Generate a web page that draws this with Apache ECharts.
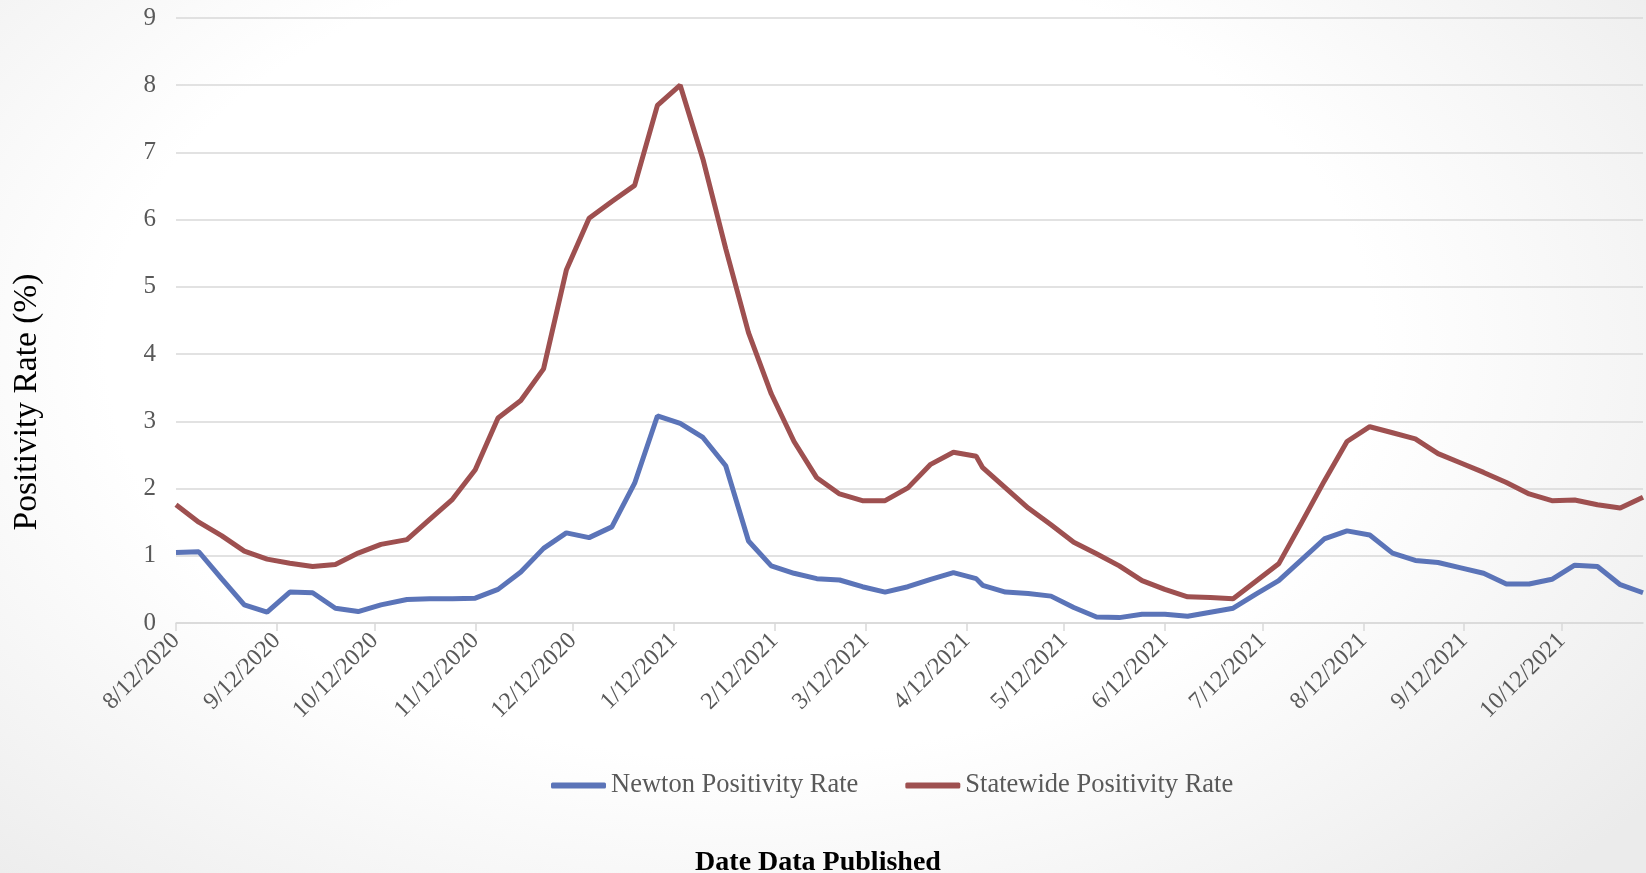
<!DOCTYPE html>
<html>
<head>
<meta charset="utf-8">
<script src="https://cdn.jsdelivr.net/npm/echarts@6/dist/echarts.min.js"></script>
<style>
html,body{margin:0;padding:0;}
body{background:radial-gradient(ellipse 70% 85% at 45% 40%, #ffffff 55%, #ebebeb 100%);}
#chart{width:1646px;height:873px;}
</style>
</head>
<body>
<div id="chart"></div>
<script>
const tickLabels = ['8/12/2020','9/12/2020','10/12/2020','11/12/2020','12/12/2020','1/12/2021','2/12/2021','3/12/2021','4/12/2021','5/12/2021','6/12/2021','7/12/2021','8/12/2021','9/12/2021','10/12/2021'];

const dates = [
 '2020-08-12','2020-08-19','2020-08-26','2020-09-02','2020-09-09','2020-09-16','2020-09-23','2020-09-30','2020-10-07','2020-10-14',
 '2020-10-22','2020-10-29','2020-11-05','2020-11-12','2020-11-19','2020-11-26','2020-12-03','2020-12-10','2020-12-17','2020-12-24',
 '2020-12-31','2021-01-07','2021-01-14','2021-01-21','2021-01-28','2021-02-04','2021-02-11','2021-02-18','2021-02-25','2021-03-04',
 '2021-03-11','2021-03-18','2021-03-25','2021-04-01','2021-04-08','2021-04-15','2021-04-17','2021-04-24','2021-05-01','2021-05-08',
 '2021-05-15','2021-05-22','2021-05-29','2021-06-05','2021-06-12','2021-06-19','2021-06-26','2021-07-03','2021-07-10','2021-07-17',
 '2021-07-24','2021-07-31','2021-08-07','2021-08-14','2021-08-21','2021-08-28','2021-09-04','2021-09-11','2021-09-18','2021-09-25',
 '2021-10-02','2021-10-09','2021-10-16','2021-10-23','2021-10-30','2021-11-06'
];

const newton = [
 1.05,1.06,0.66,0.27,0.16,0.46,0.45,0.22,0.17,0.27,
 0.35,0.36,0.36,0.37,0.50,0.76,1.11,1.34,1.27,1.43,
 2.08,3.08,2.97,2.76,2.34,1.22,0.85,0.74,0.66,0.64,
 0.54,0.46,0.54,0.65,0.75,0.66,0.56,0.46,0.44,0.40,
 0.23,0.09,0.08,0.13,0.13,0.10,0.16,0.22,0.43,0.63,
 0.94,1.25,1.37,1.31,1.04,0.93,0.90,0.82,0.74,0.58,
 0.58,0.65,0.86,0.84,0.57,0.45
];

const statewide = [
 1.76,1.50,1.30,1.07,0.95,0.89,0.84,0.87,1.04,1.17,
 1.24,1.54,1.84,2.28,3.05,3.31,3.78,5.25,6.02,6.27,
 6.51,7.70,8.00,6.90,5.57,4.32,3.41,2.70,2.16,1.92,
 1.82,1.82,2.01,2.36,2.54,2.48,2.31,2.01,1.71,1.46,
 1.20,1.03,0.85,0.63,0.50,0.39,0.38,0.36,0.62,0.88,
 1.49,2.11,2.70,2.92,2.83,2.74,2.52,2.38,2.24,2.09,
 1.92,1.82,1.83,1.76,1.71,1.87
];

const yTicks = [0,1,2,3,4,5,6,7,8,9];

function parseISO(s){const p=s.split('-').map(Number);return Date.UTC(p[0],p[1]-1,p[2]);}
function parseMDY(s){const p=s.split('/').map(Number);return Date.UTC(p[2],p[0]-1,p[1]);}
function fmt(v){const d=new Date(v);return (d.getUTCMonth()+1)+'/'+d.getUTCDate()+'/'+d.getUTCFullYear();}

const tickTs = tickLabels.map(parseMDY);
const xs = dates.map(parseISO);
const FONT = '"Liberation Serif", "DejaVu Serif", serif';

const chart = echarts.init(document.getElementById('chart'), null, {renderer:'canvas'});
chart.setOption({
  backgroundColor: 'transparent',
  animation: false,
  grid: {left:176, right:3, top:18, bottom:250, containLabel:false},
  legend: {
    left: 546, top: 767,
    icon: 'roundRect',
    itemWidth: 55, itemHeight: 6, itemGap: 47,
    textStyle: {fontFamily: FONT, fontSize: 26.5, color: '#595959'},
    data: ['Newton Positivity Rate','Statewide Positivity Rate']
  },
  xAxis: {
    type: 'value',
    min: xs[0], max: xs[xs.length-1],
    axisLine: {show:true, onZero:false, lineStyle:{color:'#d9d9d9', width:1.5}},
    axisTick: {show:true, customValues: tickTs, length: 8, lineStyle:{color:'#d9d9d9', width:1.5}},
    axisLabel: {customValues: tickTs, rotate: 45, margin: 14, formatter: fmt,
      fontFamily: FONT, fontSize: 24, color: '#595959'},
    splitLine: {show:false}
  },
  yAxis: {
    type: 'value', min: yTicks[0], max: yTicks[yTicks.length-1], interval: 1,
    axisLine: {show:false}, axisTick: {show:false},
    axisLabel: {margin: 20, fontFamily: FONT, fontSize: 25, color: '#595959'},
    splitLine: {lineStyle:{color:'#d9d9d9', width:1.5}}
  },
  graphic: [
    {type:'text', x: 27, y: 402, rotation: Math.PI/2,
     style:{text:'Positivity Rate (%)', font: '33.5px "Liberation Serif", serif', fill:'#000', textAlign:'center', textVerticalAlign:'middle'}},
    {type:'text', x: 818, y: 863,
     style:{text:'Date Data Published', font: 'bold 28px "Liberation Serif", serif', fill:'#000', textAlign:'center', textVerticalAlign:'middle'}}
  ],
  series: [
    {name:'Newton Positivity Rate', type:'line', symbol:'none', data: xs.map((t,i)=>[t, newton[i]]),
     lineStyle:{width:5, color:'#5b74b8'}, itemStyle:{color:'#5b74b8'}},
    {name:'Statewide Positivity Rate', type:'line', symbol:'none', data: xs.map((t,i)=>[t, statewide[i]]),
     lineStyle:{width:5, color:'#9e5050'}, itemStyle:{color:'#9e5050'}}
  ]
});
</script>
</body>
</html>
